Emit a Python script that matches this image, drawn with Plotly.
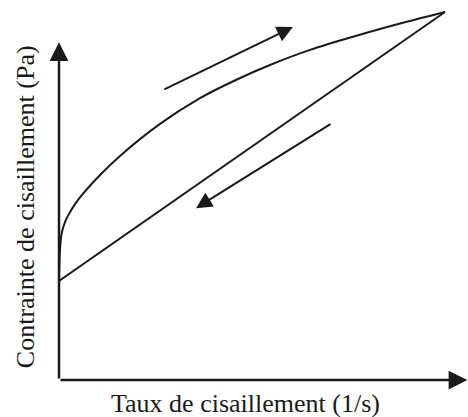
import plotly.graph_objects as go

# Shear rate / shear stress (arbitrary units)
up_x = [0, 0.026, 0.07, 0.155, 0.241, 0.415, 0.596, 1.114, 1.58, 2.617, 3.653, 4.637, 5.466, 6.503, 7.772, 8.886, 10]
up_y = [2.69, 3.53, 3.99, 4.29, 4.48, 4.78, 5.03, 5.625, 6.09, 6.96, 7.66, 8.18, 8.56, 8.97, 9.375, 9.70, 10]
down_x = [0, 10]
down_y = [2.69, 10]

# direction arrows (start -> end)
arrow_up = [(2.69, 7.88), (6.06, 9.59)]
arrow_down = [(7.07, 6.98), (3.55, 4.67)]

x_max = 10.58
y_max = 9.18

x_title = "Taux de cisaillement (1/s)"
y_title = "Contrainte de cisaillement (Pa)"

ink = "#1a1a1a"
font = "Liberation Serif"

fig = go.Figure()
fig.add_trace(go.Scatter(x=up_x, y=up_y, mode="lines",
                         line=dict(color=ink, width=2, shape="spline", smoothing=1.0), hoverinfo="skip"))
fig.add_trace(go.Scatter(x=down_x, y=down_y, mode="lines", line=dict(color=ink, width=2), hoverinfo="skip"))

ann = []
def arrow(p0, p1, w=2, size=1.6):
    return dict(x=p1[0], y=p1[1], ax=p0[0], ay=p0[1], xref="x", yref="y", axref="x", ayref="y",
                showarrow=True, arrowhead=2, arrowsize=size, arrowwidth=w, arrowcolor=ink, text="")

ann.append(arrow((0, 0), (0, y_max), w=2.5, size=1.5))
ann.append(arrow((0, 0), (x_max, 0), w=2.5, size=1.5))
ann.append(arrow(*arrow_up))
ann.append(arrow(*arrow_down))

ann.append(dict(text=x_title, xref="paper", yref="paper", x=0.455, y=-0.063, xanchor="center", yanchor="middle",
                showarrow=False, font=dict(family=font, size=26, color=ink)))
ann.append(dict(text=y_title, xref="paper", yref="paper", x=-0.083, y=0.455, xanchor="center", yanchor="middle",
                textangle=-90, showarrow=False, font=dict(family=font, size=26, color=ink)))

fig.update_layout(
    width=468, height=417,
    margin=dict(l=59, r=0, t=0, b=37),
    paper_bgcolor="white", plot_bgcolor="white",
    showlegend=False,
    xaxis=dict(range=[0, 10.596], visible=False, fixedrange=True),
    yaxis=dict(range=[0, 10.326], visible=False, fixedrange=True),
    annotations=ann,
)
fig.write_html("out.html")
